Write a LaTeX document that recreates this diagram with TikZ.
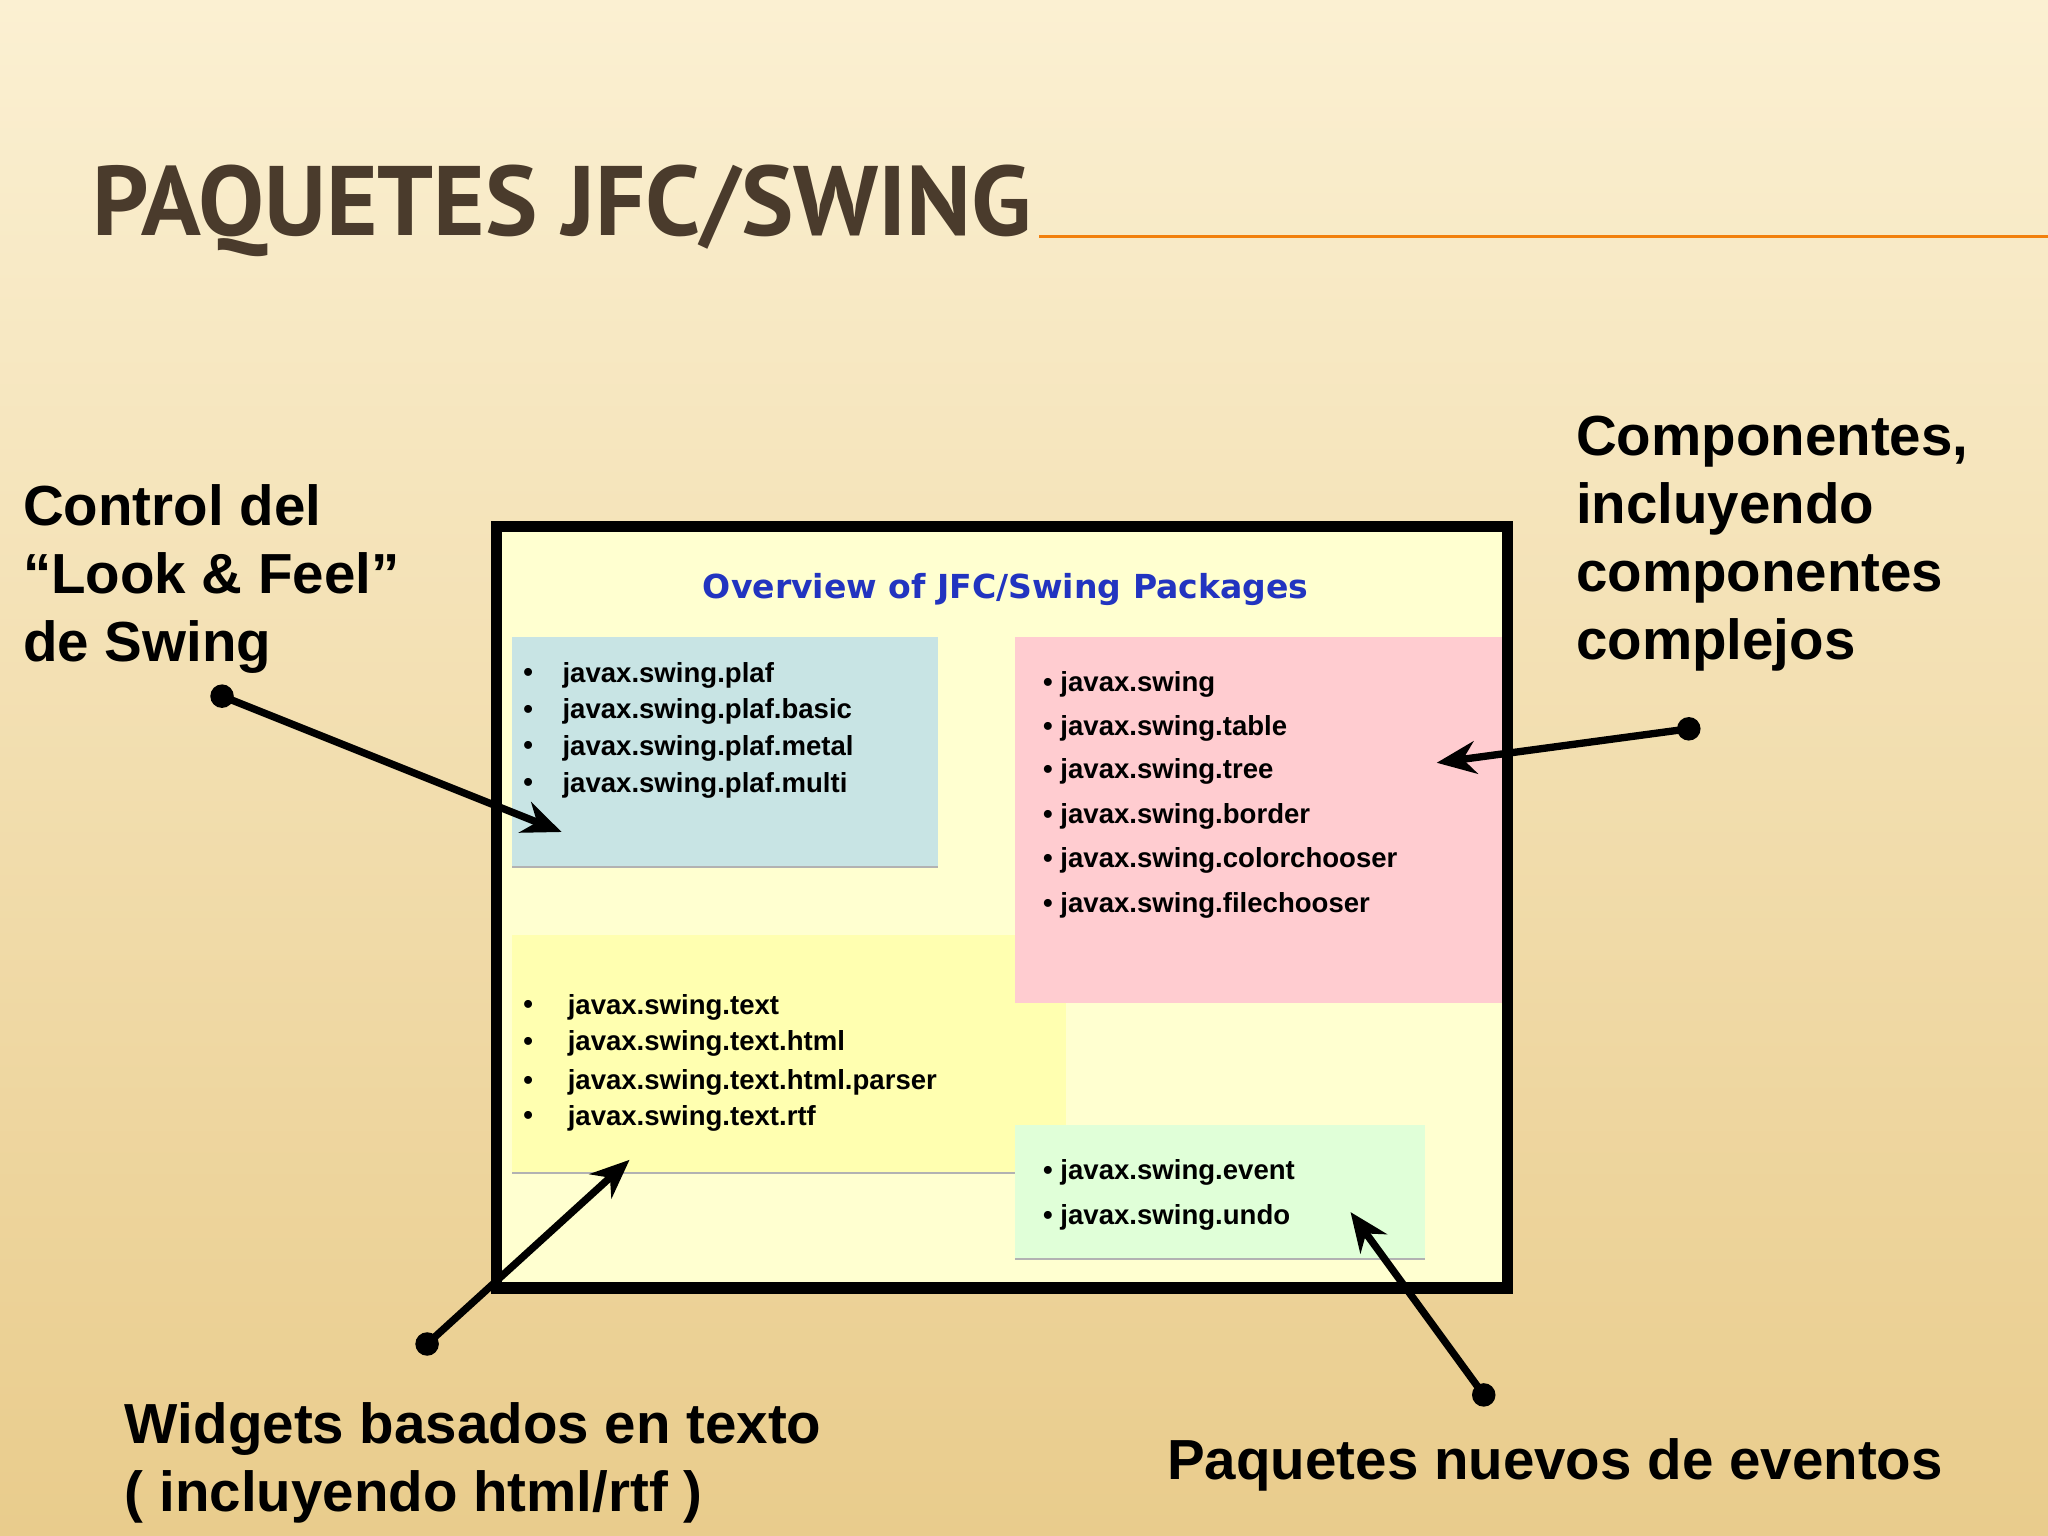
\documentclass[tikz,border=0pt]{standalone}
\usepackage{fontspec}
\setmainfont{Liberation Sans}
\newfontfamily\ttl{PT Sans}
\newfontfamily\dv{DejaVu Sans}
\usetikzlibrary{arrows.meta}
\definecolor{bgtop}{HTML}{FBF0D2}
\definecolor{bgbot}{HTML}{E9CC8C}
\definecolor{ttlc}{HTML}{4A3B2C}
\definecolor{ovl}{HTML}{2234C0}
\begin{document}
\begin{tikzpicture}[x=0.01cm,y=-0.01cm,
  lbl/.style={font=\fontsize{12.3}{14.8}\selectfont\bfseries,align=left,anchor=north west,inner sep=0pt},
  itm/.style={font=\fontsize{6}{7}\selectfont\bfseries,anchor=west,inner sep=0pt},
  dotc/.style={circle,fill=black,inner sep=0pt,minimum size=0.18cm},
  arr/.style={line width=1.6pt,-{Stealth[length=0.3cm,width=0.25cm]}}]
\shade[top color=bgtop,bottom color=bgbot] (0,0) rectangle (1568,1176);
\useasboundingbox (0,0) rectangle (1568,1176);
\node[anchor=base west,inner sep=0pt,text=ttlc] (title) at (70,180) {\ttl\bfseries\fontsize{21.5}{26}\selectfont PAQUETES JFC/SWING};
\draw[orange!80!brown,line width=0.8pt] (title.base east) ++(5,1) coordinate (t1) -- (1568,181);
\draw[line width=2.5pt,fill={rgb,255:red,255;green,255;blue,208}] (380,403) rectangle (1154,986);
\node[text=ovl,font=\dv\bfseries\fontsize{7.2}{8}\selectfont] (ov) at (770,451) {Overview of JFC/Swing Packages};
\fill[fill={rgb,255:red,200;green,228;blue,228}] (392,488) rectangle (718,664);
\draw[gray!60] (392,664) -- (718,664);
\fill[fill={rgb,255:red,255;green,255;blue,176}] (392,716) rectangle (816,898);
\fill[fill={rgb,255:red,255;green,204;blue,208}] (777,488) rectangle (1150,768);
\draw[gray!60] (392,898) -- (777,898);
\fill[fill={rgb,255:red,224;green,255;blue,216}] (777,861) rectangle (1091,964);
\draw[gray!60] (777,964) -- (1091,964);
\foreach \y/\t in {517/javax.swing.plaf,545/javax.swing.plaf.basic,573/javax.swing.plaf.metal,601/javax.swing.plaf.multi}
  {\node[itm] at (400,\y) {•}; \node[itm] at (430,\y) {\t};}
\foreach \y/\t in {771/javax.swing.text,799/javax.swing.text.html,829/javax.swing.text.html.parser,856/javax.swing.text.rtf}
  {\node[itm] at (400,\y) {•}; \node[itm] at (434,\y) {\t};}
\foreach \y/\t in {524/javax.swing,558/javax.swing.table,591/javax.swing.tree,625/javax.swing.border,659/javax.swing.colorchooser,693/javax.swing.filechooser}
  {\node[itm] at (798,\y) {• \t};}
\foreach \y/\t in {898/javax.swing.event,932/javax.swing.undo}
  {\node[itm] at (798,\y) {• \t};}
\node[lbl] (l1) at (17,370) {Control del\\“Look \& Feel”\\de Swing};
\node[lbl] (l2) at (1206,318) {Componentes,\\incluyendo\\componentes\\complejos};
\node[lbl] (l3) at (95,1073) {Widgets basados en texto\\( incluyendo html/rtf )};
\node[lbl] (l4) at (893,1101) {Paquetes nuevos de eventos};
\node[dotc] (d1) at (170,533) {}; \coordinate (e1) at (430,637);
\node[dotc] (d2) at (1293,558) {}; \coordinate (e2) at (1100,584);
\node[dotc] (d3) at (327,1029) {}; \coordinate (e3) at (482,888);
\node[dotc] (d4) at (1136,1068) {}; \coordinate (e4) at (1034,928);
\draw[arr] (d1.center) -- (e1);
\draw[arr] (d2.center) -- (e2);
\draw[arr] (d3.center) -- (e3);
\draw[arr] (d4.center) -- (e4);
\end{tikzpicture}
\end{document}
